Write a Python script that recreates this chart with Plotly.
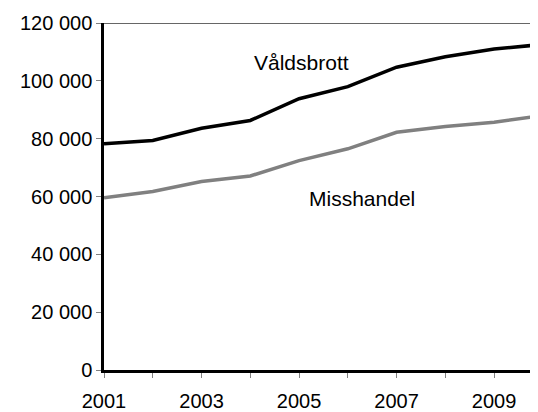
import plotly.graph_objects as go

years = [2001, 2002, 2003, 2004, 2005, 2006, 2007, 2008, 2009, 2010]
valdsbrott = [78200, 79400, 83600, 86300, 93800, 98000, 104700, 108300, 111000, 112600]
misshandel = [59600, 61700, 65200, 67100, 72400, 76500, 82200, 84200, 85700, 88000]

y_ticks = [0, 20000, 40000, 60000, 80000, 100000, 120000]
y_labels = ["0", "20 000", "40 000", "60 000", "80 000", "100 000", "120 000"]
x_ticks = [2001, 2003, 2005, 2007, 2009]

FONT = "Liberation Sans, Arial, sans-serif"

fig = go.Figure()
fig.add_trace(go.Scatter(
    x=years, y=valdsbrott, mode="lines",
    line=dict(color="#000000", width=3.5), name="Våldsbrott",
))
fig.add_trace(go.Scatter(
    x=years, y=misshandel, mode="lines",
    line=dict(color="#808080", width=3.5), name="Misshandel",
))

fig.add_annotation(x=2005.05, y=106500, text="Våldsbrott", showarrow=False,
                   font=dict(size=21, color="#000000", family=FONT))
fig.add_annotation(x=2006.3, y=59300, text="Misshandel", showarrow=False,
                   font=dict(size=21, color="#000000", family=FONT))

# thin line along the top of the plot area
fig.add_shape(type="line", xref="paper", x0=0, x1=1, yref="y", y0=120000, y1=120000,
              line=dict(color="#333333", width=1.5))

# the page body has an 8px margin, so the figure is 8px smaller than the window
fig.update_layout(
    width=530, height=404,
    margin=dict(l=96, r=0, t=15, b=39),
    paper_bgcolor="#FFFFFF",
    plot_bgcolor="#FFFFFF",
    showlegend=False,
    font=dict(family=FONT, size=20, color="#000000"),
    xaxis=dict(
        range=[2001, 2009.9], tickvals=x_ticks, ticktext=[str(v) for v in x_ticks],
        showgrid=False, zeroline=False, showline=True, linecolor="#000000", linewidth=2.5,
        ticks="outside", ticklen=5, tickcolor="#808080", tickwidth=1,
        ticklabelstandoff=6,
        minor=dict(tickvals=[2002, 2004, 2006, 2008], ticks="outside", ticklen=5,
                   tickcolor="#808080", tickwidth=1),
    ),
    yaxis=dict(
        range=[0, 120000], tickvals=y_ticks, ticktext=y_labels,
        showgrid=False, zeroline=False, showline=True, linecolor="#000000", linewidth=2.5,
        ticks="outside", ticklen=5, tickcolor="#808080", tickwidth=1,
    ),
)

fig.write_html("out.html")
